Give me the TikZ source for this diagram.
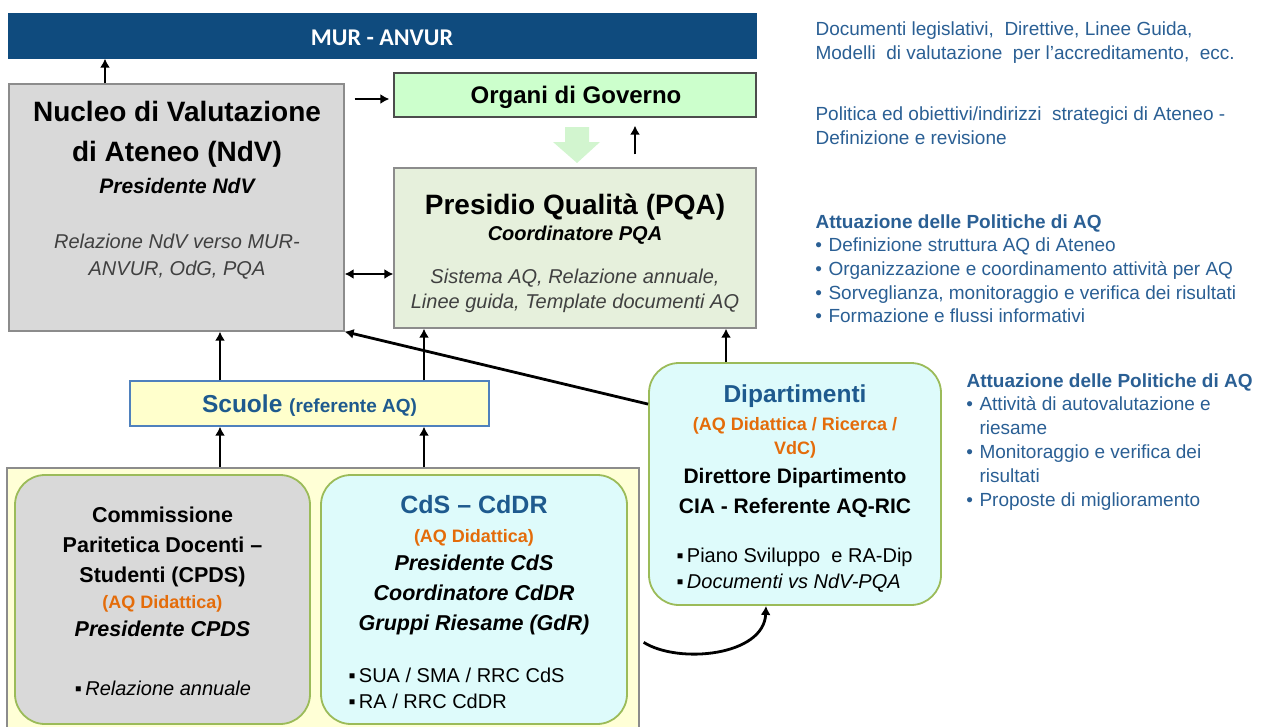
\documentclass[tikz,border=0pt]{standalone}
\usepackage{fontspec}
\setmainfont{Liberation Sans}
\newfontfamily\calfont{Carlito}
\usetikzlibrary{arrows,arrows.meta}
\tikzset{>={Latex[length=9pt,width=10pt]}}
\definecolor{murblue}{HTML}{0F4B7E}
\definecolor{titleblue}{HTML}{1E5A8E}
\definecolor{txtblue}{HTML}{2A5F94}
\definecolor{aqorange}{HTML}{E46C0A}
\definecolor{ndvgray}{HTML}{D9D9D9}
\definecolor{boxline}{HTML}{8C8C8C}
\definecolor{organigreen}{HTML}{CCFFCC}
\definecolor{pqagreen}{HTML}{E6F0DC}
\definecolor{bigarrow}{HTML}{D2F5CF}
\definecolor{rgreen}{HTML}{9BBB59}
\definecolor{cyanfill}{HTML}{DEFBFB}
\definecolor{contfill}{HTML}{FFFFD6}
\definecolor{scuolefill}{HTML}{FFFFCC}
\definecolor{scuoleline}{HTML}{4F81BD}
\colorlet{notegray}{black!75}

\begin{document}
\begin{tikzpicture}[x=1pt,y=-1pt,
    box/.style={draw=boxline,line width=1.3pt,inner sep=0pt},
    rbox/.style={draw=rgreen,line width=1.8pt,rounded corners=30pt,inner sep=0pt},
    arr/.style={->,line width=2.8pt},
    ttl/.style={anchor=base,inner sep=0pt,font=\bfseries\fontsize{28}{34}\selectfont},
    head/.style={anchor=base,font=\bfseries\fontsize{21.5}{26}\selectfont},
    role/.style={anchor=base,inner sep=0pt,font=\bfseries\itshape\fontsize{21}{26}\selectfont},
    note/.style={anchor=base,text=notegray,font=\itshape\fontsize{20}{24}\selectfont},
    aq/.style={anchor=base,text=aqorange,font=\bfseries\fontsize{18}{22}\selectfont},
    unit/.style={anchor=base,text=titleblue,font=\bfseries\fontsize{25}{30}\selectfont},
    item/.style={anchor=base west,font=\fontsize{20}{24}\selectfont},
    side/.style={anchor=base west,text=txtblue,font=\fontsize{19}{23}\selectfont},
  ]

  \path[use as bounding box,clip] (0,0) rectangle (1265,726);

  % BOXES
  \node[box,fill=murblue,draw=murblue,minimum width=747,minimum height=44] (mur) at (382.5,36) {};
  \node[box,fill=ndvgray,minimum width=335,minimum height=247] (ndv) at (176.5,207.5) {};
  \node[box,fill=organigreen,draw=black!70,minimum width=362,minimum height=44] (organi) at (575,95) {};
  \node[box,fill=pqagreen,minimum width=362,minimum height=160] (pqa) at (575,248) {};
  \node[box,fill=scuolefill,draw=scuoleline,minimum width=359,minimum height=45] (scuole) at (309.5,403.5) {};
  \node[box,fill=contfill,minimum width=632,minimum height=272] (cont) at (323,604) {};
  \node[rbox,fill=ndvgray,minimum width=295,minimum height=249] (cpds) at (162.5,599.5) {};
  \node[rbox,fill=cyanfill,minimum width=306,minimum height=249] (cds) at (474,599.5) {};
  \node[rbox,fill=cyanfill,minimum width=292,minimum height=242] (dip) at (795,484) {};

  % big arrow Organi -> PQA
  \fill[bigarrow] (565,127) -- (589,127) -- (589,142) -- (600,142) -- (577,163)
    -- (553,142) -- (565,142) -- cycle;

  % TEXT IN THE BOXES
  \node[anchor=base,text=white,font=\calfont\bfseries\fontsize{24}{28}\selectfont] (murt) at (382,45) {MUR - ANVUR};

  \node[ttl] (ndv1) at (177,121) {Nucleo di Valutazione};
  \node[ttl] (ndv2) at (177,161) {di Ateneo (NdV)};
  \node[role] (ndv3) at (177,193) {Presidente NdV};
  \node[note] (ndv4) at (177,248) {Relazione NdV verso MUR-};
  \node[note] (ndv5) at (177,275) {ANVUR, OdG, PQA};

  \node[anchor=base,font=\bfseries\fontsize{24}{28}\selectfont] (organit) at (576,103) {Organi di Governo};

  \node[ttl] (pqa1) at (575,214) {Presidio Qualità (PQA)};
  \node[role,font=\bfseries\itshape\fontsize{20}{24}\selectfont] (pqa2) at (575,240) {Coordinatore PQA};
  \node[note] (pqa3) at (575,283) {Sistema AQ, Relazione annuale,};
  \node[note] (pqa4) at (575,308) {Linee guida, Template documenti AQ};

  \node[unit,font=\bfseries\fontsize{24.5}{28}\selectfont] (scuolet) at (309.5,412)
    {Scuole {\fontsize{19}{22}\selectfont(referente AQ)}};

  \node[head] (cpds1) at (162.5,522) {Commissione};
  \node[head] (cpds2) at (162.5,552) {Paritetica Docenti –};
  \node[head] (cpds3) at (162.5,582) {Studenti (CPDS)};
  \node[aq] (cpds4) at (162.5,608) {(AQ Didattica)};
  \node[role,font=\bfseries\itshape\fontsize{21.5}{26}\selectfont] (cpds5) at (162.5,636) {Presidente CPDS};
  \node[anchor=base,font=\fontsize{20}{24}\selectfont] (cpds6) at (163,695) {▪\,\textit{Relazione annuale}};

  \node[unit] (cds1) at (474,513) {CdS – CdDR};
  \node[aq] (cds2) at (474,542) {(AQ Didattica)};
  \node[role,font=\bfseries\itshape\fontsize{21.5}{26}\selectfont] (cds3) at (474,570) {Presidente CdS};
  \node[role,font=\bfseries\itshape\fontsize{21.5}{26}\selectfont] (cds4) at (474,600) {Coordinatore CdDR};
  \node[role,font=\bfseries\itshape\fontsize{21.5}{26}\selectfont] (cds5) at (474,630) {Gruppi Riesame (GdR)};
  \node[item] (cds6) at (345,682) {▪\,SUA / SMA / RRC CdS};
  \node[item] (cds7) at (345,708) {▪\,RA / RRC CdDR};

  \node[unit,font=\bfseries\fontsize{24.5}{28}\selectfont] (dip1) at (795,402) {Dipartimenti};
  \node[aq] (dip2) at (795,430) {(AQ Didattica / Ricerca /};
  \node[aq] (dip3) at (795,454) {VdC)};
  \node[head,font=\bfseries\fontsize{21}{26}\selectfont] (dip4) at (795,483) {Direttore Dipartimento};
  \node[head,font=\bfseries\fontsize{21}{26}\selectfont] (dip5) at (795,513) {CIA - Referente AQ-RIC};
  \node[item] (dip6) at (673,562) {▪\,Piano Sviluppo\ \ e RA-Dip};
  \node[item] (dip7) at (673,588) {▪\,\textit{Documenti vs NdV-PQA}};

  % TEXT ON THE RIGHT
  \node[side] (doc1) at (812,35) {Documenti legislativi,\ \ Direttive, Linee Guida,};
  \node[side] (doc2) at (812,59) {Modelli\ \ di valutazione\ \ per l’accreditamento,\ \ ecc.};
  \node[side] (pol1) at (812,120) {Politica ed obiettivi/indirizzi\ \ strategici di Ateneo -};
  \node[side] (pol2) at (812,144) {Definizione e revisione};

  \node[side,font=\bfseries\fontsize{19}{23}\selectfont] (att1) at (812,228) {Attuazione delle Politiche di AQ};
  \foreach \t [count=\i] in {Definizione struttura AQ di Ateneo,
                             Organizzazione e coordinamento attività per AQ,
                             {Sorveglianza, monitoraggio e verifica dei risultati},
                             Formazione e flussi informativi}{
    \node[side] (att1-\i) at (825,228+23.7*\i) {\llap{•\hspace{6.5pt}}\t};
  }

  \node[side,font=\bfseries\fontsize{19}{23}\selectfont] (att2) at (963,387) {Attuazione delle Politiche di AQ};
  \foreach \b/\t [count=\i] in {1/Attività di autovalutazione e, 0/riesame,
                                1/Monitoraggio e verifica dei, 0/risultati,
                                1/Proposte di miglioramento}{
    \node[side] (att2-\i) at (976,386+24*\i) {\ifnum\b=1 \llap{•\hspace{6.5pt}}\fi\t};
  }

  % ARROWS
  \path ([xshift=-71.5pt]ndv.north) coordinate (n1)
        ([yshift=-4pt]organi.west) coordinate (o1)
        ([yshift=-26pt]pqa.west) coordinate (q1)
        ([xshift=60pt]pqa.north) coordinate (p1)
        ([xshift=-89.5pt]scuole.north) coordinate (s1)
        ([xshift=114.5pt]scuole.north) coordinate (s2)
        ([xshift=-69pt]dip.north) coordinate (d1);

  \draw[arr] (n1) -- (n1 |- mur.south);
  \draw[arr,shorten <=10pt,shorten >=4pt] (o1 -| ndv.east) -- (o1);
  \draw[arr,<->] (q1 -| ndv.east) -- (q1);
  \draw[arr,shorten <=13pt,shorten >=8pt] (p1) -- (p1 |- organi.south);
  \draw[arr] (s1) -- (s1 |- ndv.south);
  \draw[arr] (s2) -- (s2 |- pqa.south);
  \draw[arr] (s1 |- cont.north) -- (s1 |- scuole.south);
  \draw[arr] (s2 |- cont.north) -- (s2 |- scuole.south);
  \draw[arr] (d1) -- (d1 |- pqa.south);
  \draw[arr] ([yshift=-42pt]dip.north west) -- (ndv.south east);
  \draw[arr] ([xshift=4pt,yshift=-175pt]cont.north east) .. controls +(35,22) and +(-2,50) .. ([xshift=-29pt]dip.south);

\end{tikzpicture}
\end{document}
